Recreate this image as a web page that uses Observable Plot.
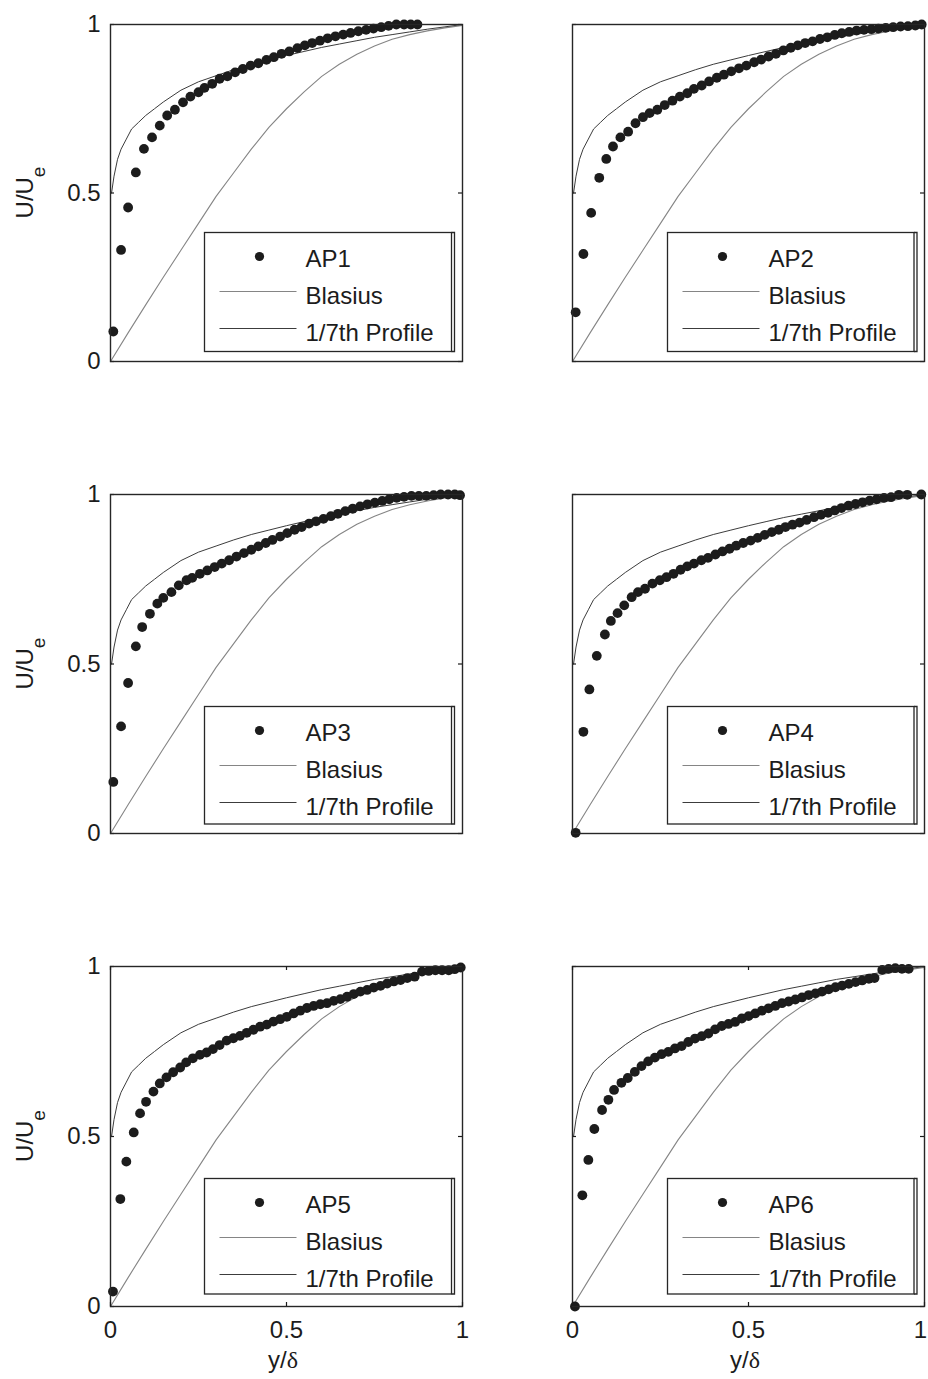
<!DOCTYPE html>
<html>
<head>
<meta charset="utf-8">
<script src="https://cdn.jsdelivr.net/npm/d3@7"></script>
<script src="https://cdn.jsdelivr.net/npm/@observablehq/plot@0.6"></script>
<style>
  body { margin: 0; background: #fff; }
  #fig { position: relative; width: 928px; height: 1379px; overflow: hidden; background: #fff;
         font-family: "Liberation Sans", Arial, sans-serif; }
  #fig > svg { position: absolute; }
  #overlay { left: 0; top: 0; pointer-events: none; }
</style>
</head>
<body>
<div id="fig"></div>
<script>
// Measured velocity profiles (y/delta, U/Ue) for the six stations
const ap1X = [0.008,0.030,0.050,0.072,0.095,0.118,0.140,0.161,0.183,0.206,0.227,0.250,0.267,0.289,0.310,0.332,0.354,0.376,0.398,0.420,0.443,0.464,0.486,0.508,0.531,0.552,0.573,0.595,0.617,0.639,0.661,0.682,0.704,0.726,0.747,0.769,0.790,0.812,0.834,0.853,0.872];
const ap1Y = [0.089,0.331,0.457,0.561,0.631,0.665,0.700,0.730,0.747,0.769,0.786,0.799,0.812,0.824,0.839,0.846,0.858,0.868,0.878,0.885,0.895,0.903,0.913,0.920,0.930,0.938,0.945,0.952,0.959,0.965,0.970,0.975,0.980,0.984,0.988,0.992,0.996,1.000,1.000,1.000,1.000];

const ap2X = [0.009,0.031,0.053,0.076,0.096,0.115,0.136,0.158,0.179,0.200,0.219,0.241,0.262,0.284,0.305,0.326,0.345,0.367,0.388,0.410,0.430,0.451,0.473,0.494,0.516,0.536,0.557,0.578,0.599,0.620,0.640,0.661,0.682,0.703,0.724,0.745,0.765,0.786,0.807,0.828,0.849,0.869,0.890,0.911,0.932,0.953,0.974,0.992];
const ap2Y = [0.146,0.319,0.441,0.545,0.601,0.638,0.665,0.682,0.707,0.725,0.737,0.747,0.761,0.774,0.786,0.796,0.809,0.819,0.831,0.842,0.851,0.861,0.870,0.878,0.888,0.896,0.905,0.913,0.923,0.931,0.938,0.945,0.950,0.957,0.962,0.969,0.974,0.978,0.982,0.984,0.986,0.988,0.990,0.992,0.994,0.995,0.997,1.000];

const ap3X = [0.008,0.030,0.050,0.072,0.090,0.112,0.133,0.150,0.173,0.194,0.216,0.232,0.254,0.275,0.296,0.316,0.337,0.358,0.379,0.400,0.420,0.441,0.460,0.482,0.502,0.523,0.543,0.564,0.584,0.605,0.626,0.646,0.667,0.688,0.709,0.730,0.751,0.772,0.792,0.813,0.834,0.855,0.876,0.897,0.918,0.938,0.959,0.978,0.993];
const ap3Y = [0.152,0.316,0.444,0.552,0.609,0.648,0.678,0.695,0.712,0.732,0.747,0.754,0.766,0.776,0.786,0.796,0.806,0.817,0.827,0.837,0.847,0.857,0.866,0.876,0.886,0.896,0.904,0.914,0.921,0.928,0.936,0.943,0.951,0.958,0.965,0.971,0.976,0.981,0.986,0.990,0.993,0.996,0.996,0.996,0.998,1.000,1.000,1.000,0.998];

const ap4X = [0.009,0.031,0.048,0.069,0.092,0.109,0.128,0.147,0.168,0.186,0.206,0.227,0.248,0.267,0.287,0.307,0.326,0.345,0.366,0.385,0.406,0.426,0.446,0.465,0.485,0.506,0.526,0.546,0.566,0.586,0.605,0.625,0.645,0.665,0.686,0.706,0.726,0.745,0.764,0.784,0.804,0.824,0.844,0.864,0.885,0.905,0.927,0.951,0.991];
const ap4Y = [0.002,0.300,0.425,0.524,0.587,0.627,0.650,0.673,0.697,0.712,0.722,0.737,0.747,0.756,0.766,0.778,0.788,0.796,0.806,0.813,0.823,0.832,0.840,0.849,0.857,0.864,0.872,0.881,0.889,0.896,0.904,0.911,0.917,0.925,0.933,0.940,0.946,0.953,0.960,0.967,0.972,0.977,0.982,0.986,0.990,0.992,0.999,0.999,1.000];

const ap5X = [0.007,0.028,0.045,0.066,0.084,0.101,0.122,0.140,0.159,0.178,0.198,0.215,0.234,0.254,0.273,0.291,0.310,0.330,0.349,0.368,0.387,0.406,0.425,0.444,0.463,0.482,0.501,0.520,0.539,0.558,0.577,0.596,0.615,0.634,0.653,0.672,0.691,0.710,0.729,0.748,0.767,0.786,0.805,0.824,0.843,0.864,0.885,0.904,0.923,0.942,0.961,0.978,0.995];
const ap5Y = [0.044,0.316,0.426,0.512,0.568,0.602,0.632,0.656,0.674,0.689,0.703,0.718,0.730,0.740,0.747,0.757,0.769,0.782,0.789,0.796,0.805,0.814,0.823,0.829,0.838,0.845,0.852,0.862,0.870,0.878,0.884,0.889,0.892,0.899,0.904,0.911,0.919,0.926,0.931,0.938,0.943,0.950,0.956,0.960,0.966,0.970,0.985,0.987,0.989,0.989,0.989,0.992,0.997];

const ap6X = [0.007,0.028,0.045,0.062,0.084,0.102,0.118,0.139,0.157,0.177,0.196,0.215,0.234,0.253,0.272,0.291,0.310,0.329,0.348,0.367,0.386,0.405,0.424,0.443,0.462,0.481,0.500,0.519,0.538,0.557,0.576,0.595,0.614,0.633,0.652,0.671,0.690,0.709,0.728,0.747,0.766,0.785,0.804,0.823,0.842,0.858,0.880,0.898,0.917,0.936,0.955];
const ap6Y = [0.000,0.327,0.431,0.522,0.578,0.608,0.637,0.658,0.672,0.690,0.707,0.721,0.732,0.742,0.749,0.759,0.766,0.778,0.788,0.795,0.803,0.815,0.825,0.831,0.837,0.847,0.854,0.862,0.870,0.877,0.884,0.892,0.897,0.903,0.909,0.916,0.921,0.926,0.933,0.939,0.944,0.949,0.954,0.959,0.964,0.966,0.990,0.993,0.995,0.993,0.993];

// Reference profiles: laminar Blasius and turbulent 1/7th power law
const blasiusX = [0,0.05,0.10,0.15,0.20,0.25,0.30,0.35,0.40,0.45,0.50,0.55,0.60,0.65,0.70,0.75,0.80,0.85,0.90,0.95,1.00];
const blasiusY = [0,0.085,0.168,0.250,0.330,0.410,0.490,0.560,0.630,0.695,0.750,0.800,0.846,0.882,0.912,0.936,0.956,0.970,0.981,0.990,0.997];
const seventhX = [0.003,0.01,0.02,0.03,0.045,0.06,0.08,0.10,0.125,0.15,0.20,0.25,0.30,0.35,0.40,0.45,0.50,0.55,0.60,0.65,0.70,0.75,0.80,0.85,0.90,0.95,1.00];
const seventhY = [0.500,0.550,0.600,0.630,0.660,0.690,0.710,0.730,0.750,0.770,0.805,0.830,0.848,0.866,0.882,0.895,0.908,0.920,0.932,0.942,0.952,0.962,0.970,0.978,0.986,0.993,1.000];

const stationNames = ["AP1","AP2","AP3","AP4","AP5","AP6"];
const stationX = [ap1X, ap2X, ap3X, ap4X, ap5X, ap6X];
const stationY = [ap1Y, ap2Y, ap3Y, ap4Y, ap5Y, ap6Y];
const legendLabels = ["Blasius", "1/7th Profile"];
const xTicks = [0, 0.5, 1];
const yTicks = [0, 0.5, 1];

// Page layout of the 3 x 2 grid of panels
const frameLeft = [110, 572], frameRight = [462, 924];
const frameTop = [24, 494, 966], frameBottom = [361, 833, 1306];
const svgLeft = [0, 464], svgRight = [470, 928];
const svgTop = [0, 470, 942], svgBottom = [380, 850, 1379];
const legendLeft = [204.5, 667.5], legendRight = [451.5, 914];
const legendTop = [232.5, 706.5, 1178.5], legendBottom = [351.5, 824, 1294];

const ink = "#1c1c1c";
const blasiusColor = "#858585";
const seventhColor = "#3c3c3c";
const fontFamily = "'Liberation Sans', Arial, Helvetica, sans-serif";

const toPoints = (xs, ys) => xs.map((x, i) => ({x, y: ys[i]}));
const blasius = toPoints(blasiusX, blasiusY);
const seventh = toPoints(seventhX, seventhY);

const fig = document.getElementById("fig");

stationNames.forEach((name, i) => {
  const col = i % 2, row = Math.floor(i / 2);
  const width = svgRight[col] - svgLeft[col];
  const height = svgBottom[row] - svgTop[row];
  const plotW = frameRight[col] - frameLeft[col];
  const plotH = frameBottom[row] - frameTop[row];
  const pts = toPoints(stationX[i], stationY[i]);

  const marks = [
    Plot.line(blasius, {x: "x", y: "y", stroke: blasiusColor, strokeWidth: 1.1}),
    Plot.line(seventh, {x: "x", y: "y", stroke: seventhColor, strokeWidth: 1}),
    // short inward ticks on the left and right edges
    Plot.tickY(yTicks, {y: d => d, stroke: ink, strokeWidth: 1.2, insetRight: plotW - 4}),
    Plot.tickY(yTicks, {y: d => d, stroke: ink, strokeWidth: 1.2, insetLeft: plotW - 4}),
    Plot.dot(pts, {x: "x", y: "y", r: 4.9, fill: ink, stroke: "none"}),
    Plot.frame({stroke: "#262626", strokeWidth: 1.4})
  ];
  if (col === 0) {
    marks.push(Plot.axisY(yTicks, {tickSize: 0, tickPadding: 10, tickFormat: d => String(d), label: null}));
  }
  if (row === 2) {
    marks.push(Plot.tickX(xTicks, {x: d => d, stroke: ink, strokeWidth: 1.2, insetTop: plotH - 4}));
    marks.push(Plot.tickX(xTicks, {x: d => d, stroke: ink, strokeWidth: 1.2, insetBottom: plotH - 4}));
    if (col === 0) {
      marks.push(Plot.axisX(xTicks, {tickSize: 0, tickPadding: 14, tickFormat: d => String(d), label: null}));
    } else {
      // the last label sits at the page edge; nudge it inward so it stays whole
      marks.push(Plot.axisX(xTicks.slice(0, -1), {tickSize: 0, tickPadding: 14, tickFormat: d => String(d), label: null}));
      marks.push(Plot.axisX(xTicks.slice(-1), {tickSize: 0, tickPadding: 14, tickFormat: d => String(d), label: null, dx: -4}));
    }
  }

  const svg = Plot.plot({
    width, height,
    marginLeft: frameLeft[col] - svgLeft[col],
    marginRight: svgRight[col] - frameRight[col],
    marginTop: frameTop[row] - svgTop[row],
    marginBottom: svgBottom[row] - frameBottom[row],
    x: {domain: [0, 1], label: null, axis: row === 2 ? undefined : null},
    y: {domain: [0, 1], label: null, axis: col === 0 ? undefined : null},
    style: {fontFamily, fontSize: "24px", color: ink, background: "transparent", overflow: "visible"},
    marks
  });
  svg.style.left = svgLeft[col] + "px";
  svg.style.top = svgTop[row] + "px";
  fig.appendChild(svg);
});

// Axis titles and legends
const overlay = d3.select(fig).append("svg")
  .attr("id", "overlay")
  .attr("width", 928).attr("height", 1379)
  .style("font-family", fontFamily)
  .style("font-size", "24px");

// y titles, left column
frameTop.forEach((top, row) => {
  const mid = (top + frameBottom[row]) / 2;
  const t = overlay.append("text")
    .attr("transform", `translate(33,${mid}) rotate(-90)`)
    .attr("text-anchor", "middle")
    .attr("fill", ink);
  t.append("tspan").text("U/U");
  t.append("tspan").attr("font-size", 19).attr("dy", 12).text("e");
});

// x titles, bottom row
frameLeft.forEach((left, col) => {
  const mid = (left + frameRight[col]) / 2 - 3;
  const t = overlay.append("text")
    .attr("x", mid).attr("y", 1368)
    .attr("text-anchor", "middle")
    .attr("fill", ink);
  t.append("tspan").text("y/");
  t.append("tspan").attr("font-family", "'Liberation Serif', 'DejaVu Serif', serif").text("δ");
});

// legends
stationNames.forEach((name, i) => {
  const col = i % 2, row = Math.floor(i / 2);
  const L = legendLeft[col], R = legendRight[col], T = legendTop[row], B = legendBottom[row];
  const g = overlay.append("g");
  g.append("rect").attr("x", L).attr("y", T).attr("width", R - L).attr("height", B - T)
    .attr("fill", "#fff").attr("stroke", "#262626").attr("stroke-width", 1.3);
  g.append("path").attr("d", `M${R},${T} H${R + 3} V${B} H${R}`)
    .attr("fill", "none").attr("stroke", "#262626").attr("stroke-width", 1.3);
  g.append("circle").attr("cx", L + 55).attr("cy", T + 24).attr("r", 4.6).attr("fill", ink);
  g.append("line").attr("x1", L + 15).attr("x2", L + 92).attr("y1", T + 59).attr("y2", T + 59)
    .attr("stroke", blasiusColor).attr("stroke-width", 1.1);
  g.append("line").attr("x1", L + 15).attr("x2", L + 92).attr("y1", T + 96).attr("y2", T + 96)
    .attr("stroke", seventhColor).attr("stroke-width", 1);
  const labels = [name, ...legendLabels];
  const baselines = [34.5, 71.5, 108];
  labels.forEach((s, k) => {
    g.append("text").attr("x", L + 101).attr("y", T + baselines[k]).attr("fill", ink).text(s);
  });
});
</script>
</body>
</html>
